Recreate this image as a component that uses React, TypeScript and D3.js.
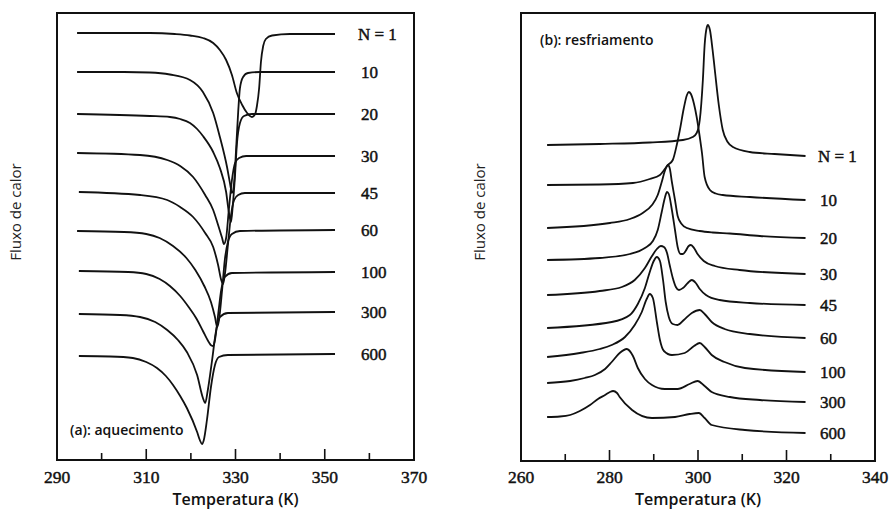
import * as d3 from "d3";

// labels for each curve (number of thermal cycles)
const cycleLabels = ["N = 1", "10", "20", "30", "45", "60", "100", "300", "600"];

// heating (a): [temperature K, heat flow a.u.]
const heatN1 = [[294.5,427],[310.8,427],[316.4,426],[319.8,424.5],[322.7,422],[325.0,417],[326.5,410],[327.9,400],[329.2,385],[330.3,367],[331.5,355],[332.6,347],[333.7,343],[334.4,346],[334.8,354],[335.3,372],[335.7,398],[336.2,414],[336.8,421],[338.2,424.5],[342.2,426],[352.3,426]];
const heatN10 = [[294.5,388],[305.0,388],[310.8,387.5],[315.3,385.5],[319.8,380],[322.7,368],[325.0,347],[326.5,323],[328.1,293],[328.8,276],[329.2,267],[329.7,278],[330.1,308],[330.6,348],[331.0,372],[331.7,383],[332.8,387],[335.5,388],[352.3,388]];
const heatN20 = [[294.5,346],[310.8,344],[315.3,343],[317.6,341],[319.8,337],[321.4,331],[322.7,324],[325.0,308],[326.5,292],[327.9,268],[328.5,248],[329.0,238],[329.4,255],[329.9,285],[330.3,315],[331.0,337],[331.9,344],[333.7,346],[352.3,346]];
const heatN30 = [[294.5,307],[308.6,305],[314.7,300],[317.6,294],[320.5,283],[323.2,265],[325.0,250],[326.1,235],[327.0,222],[327.4,216],[327.9,222],[328.5,250],[329.2,280],[329.9,297],[330.8,302],[332.4,304],[352.3,304]];
const heatN45 = [[294.9,268],[308.6,265],[314.7,260],[317.6,253],[320.5,243],[323.2,227],[325.0,213],[326.1,195],[326.8,180],[327.2,176],[327.6,185],[328.3,215],[329.0,245],[329.7,260],[330.6,265],[332.1,267],[352.3,267]];
const heatN60 = [[294.5,229],[305.0,228],[310.0,226],[313.0,222],[316.0,214],[319.0,202],[321.0,190],[323.0,174],[324.5,158],[325.4,143],[325.9,133],[326.3,140],[327.0,170],[327.6,200],[328.3,218],[329.2,226],[331.0,229],[352.3,230]];
const heatN100 = [[294.9,189],[306.0,188],[310.0,186],[313.0,181],[315.3,174],[317.6,164],[319.5,153],[321.3,141],[322.7,129],[324.0,118],[324.6,114.5],[325.0,114],[325.4,120],[326.1,145],[326.8,170],[327.6,183],[329.2,187],[352.3,188]];
const heatN300 = [[294.9,146],[304.1,145],[308.6,143],[312.0,138],[314.7,130],[317.1,120],[319.1,108],[321.4,85],[322.7,62],[323.2,57],[323.8,70],[324.7,98],[325.6,128],[326.5,143],[328.3,147],[352.3,148]];
const heatN600 = [[294.9,104],[301.9,103.5],[307.0,102],[310.0,98],[312.4,92],[314.4,84],[316.0,75],[317.6,64],[319.1,52],[321.4,28],[322.0,20],[322.5,16],[322.9,20],[323.6,40],[324.5,73],[325.4,95],[326.3,103],[328.3,105],[352.3,106]];

// cooling (b): [temperature K, heat flow a.u.]
const coolN1 = [[265.9,316],[277.8,317],[289.1,318.5],[296.6,321],[298.8,324],[299.7,328],[300.4,341],[301.1,381],[301.5,416],[302.0,434],[302.2,436],[302.7,431],[303.3,411],[303.8,391],[304.7,356],[305.6,331],[306.7,319],[307.9,314],[311.7,309],[317.3,307],[324.3,305]];
const coolN10 = [[265.9,276],[277.8,276.5],[285.3,278],[289.1,282],[291.4,286],[293.2,296],[294.3,301],[295.2,316],[295.9,331],[296.8,353],[297.5,366],[297.9,369],[298.4,367],[299.1,357],[299.7,344],[300.4,324],[300.9,308],[301.5,284],[302.7,271],[304.0,267.5],[305.6,266],[311.7,264],[324.3,261]];
const coolN20 = [[265.9,233],[280.1,238],[284.6,242],[287.5,248],[289.6,256],[290.9,266],[291.8,279],[292.5,290],[293.2,296],[293.6,293],[294.1,279],[294.8,261],[295.4,245],[296.3,237],[297.5,233],[300.4,230],[303.3,228.5],[307.2,227.5],[314.0,225],[324.3,223]];
const coolN30 = [[265.9,201],[277.8,203],[284.6,207],[288.0,213],[289.8,220],[290.9,231],[291.8,249],[292.5,263],[293.0,269],[293.4,267],[294.1,251],[294.8,231],[295.4,214],[296.1,207],[296.6,207],[297.2,210],[297.9,215],[298.4,216],[299.1,213],[299.9,207],[301.3,200],[303.8,195],[309.4,191],[324.3,187]];
const coolN45 = [[265.9,166],[277.8,170],[282.8,174],[285.7,181],[288.0,193],[289.6,205],[290.7,212],[291.6,215],[292.3,214],[293.0,208],[293.6,196],[294.3,183],[295.0,174],[295.7,171],[296.6,173],[297.7,178],[298.6,181],[299.5,178],[300.4,172],[301.8,166],[304.9,161],[311.7,158],[324.3,156]];
const coolN60 = [[265.9,133],[280.5,139],[284.6,146],[286.4,157],[288.0,173],[289.1,189],[290.0,200],[290.7,204],[291.4,200],[292.1,181],[292.7,159],[293.4,144],[294.3,137],[295.4,136],[296.8,141],[298.6,148],[300.4,151],[301.5,147],[303.1,139],[306.0,132],[311.7,127],[324.3,123]];
const coolN100 = [[265.9,104],[273.3,108],[277.8,112],[280.5,116],[283.5,124],[285.7,136],[287.3,149],[288.4,162],[289.1,167],[289.8,163],[290.7,139],[291.4,121],[292.3,110],[294.1,106],[297.0,108],[299.1,115],[300.4,118],[301.5,114],[303.1,106],[306.0,99],[310.6,93],[324.3,89]];
const coolN300 = [[265.9,78],[271.1,80],[274.4,83],[276.7,86],[279.0,92],[280.5,99],[282.3,108],[283.9,112],[285.3,105],[286.4,93],[288.0,82],[289.6,76],[292.5,72],[295.4,72],[298.1,77],[299.9,80],[301.5,75],[303.1,69],[307.2,64],[314.0,61],[324.3,59]];
const coolN600 = [[265.9,44],[268.8,44.5],[271.1,46],[273.3,50],[275.6,56],[277.4,62],[279.0,66],[280.1,69],[280.8,70],[281.7,68],[282.3,64],[285.1,51],[289.6,43],[294.8,44],[298.1,47],[300.2,48],[301.5,43],[303.1,36],[310.6,31],[324.3,28]];

const heatingCurves = [heatN1, heatN10, heatN20, heatN30, heatN45, heatN60, heatN100, heatN300, heatN600];
const coolingCurves = [coolN1, coolN10, coolN20, coolN30, coolN45, coolN60, coolN100, coolN300, coolN600];

const heatTickLabels = [290, 310, 330, 350, 370];
const heatMinorTicks = [300, 320, 340, 360];
const coolTickLabels = [260, 280, 300, 320, 340];
const coolMinorTicks = [270, 290, 310, 330];

const SERIF = "'Liberation Serif', 'DejaVu Serif', serif";
const SANS = "'Open Sans', 'Noto Sans', sans-serif";
const INK = "#111";

function Panel(props) {
  const { box, xDomain, yMax, curves, majors, minors, title, titlePos, labelX, labelFirstX } = props;
  const x = d3.scaleLinear().domain(xDomain).range([box.left, box.right]);
  const y = d3.scaleLinear().domain([0, yMax]).range([box.bottom, box.top]);
  const line = d3
    .line()
    .x((d) => x(d[0]))
    .y((d) => y(d[1]))
    .curve(d3.curveMonotoneX);

  const midX = (box.left + box.right) / 2;

  return (
    <g>
      <rect
        x={box.left}
        y={box.top}
        width={box.right - box.left}
        height={box.bottom - box.top}
        fill="none"
        stroke={INK}
        strokeWidth={2}
      />
      {majors.slice(1, -1).map((t) => (
        <line key={"M" + t} x1={x(t)} x2={x(t)} y1={box.bottom} y2={box.bottom - 11} stroke={INK} strokeWidth={1.6} />
      ))}
      {minors.map((t) => (
        <line key={"m" + t} x1={x(t)} x2={x(t)} y1={box.bottom} y2={box.bottom - 7} stroke={INK} strokeWidth={1.6} />
      ))}
      {majors.map((t) => (
        <text key={"t" + t} x={x(t)} y={483} textAnchor="middle" fontFamily={SERIF} fontSize={17.5}
          fill={INK} stroke={INK} strokeWidth={0.45}>
          {t}
        </text>
      ))}
      <text x={midX} y={505} textAnchor="middle" fontFamily={SANS} fontWeight={600} fontSize={16} fill={INK}>
        Temperatura (K)
      </text>
      <text
        transform={`translate(${box.left - 36},212) rotate(-90)`}
        textAnchor="middle"
        fontFamily={SANS}
        fontSize={15}
        fill="#222"
      >
        Fluxo de calor
      </text>
      {curves.map((c, i) => (
        <path key={i} d={line(c)} fill="none" stroke={INK} strokeWidth={1.8} strokeLinejoin="round" />
      ))}
      {curves.map((c, i) => {
        const last = c[c.length - 1];
        return (
          <text
            key={"l" + i}
            x={i === 0 ? labelFirstX : labelX}
            y={y(last[1]) + 6}
            fontFamily={SERIF}
            fontSize={17}
            fill={INK}
            stroke={INK}
            strokeWidth={0.45}
          >
            {cycleLabels[i]}
          </text>
        );
      })}
      <text x={titlePos[0]} y={titlePos[1]} fontFamily={SANS} fontWeight={600} fontSize={14} fill={INK}>
        {title}
      </text>
    </g>
  );
}

export default function App() {
  return (
    <svg width={890} height={511} style={{ position: "absolute", left: 0, top: 0, background: "#fff" }}>
      <rect width={890} height={511} fill="#fff" />
      <Panel
        box={{ left: 57, right: 414, top: 13, bottom: 460 }}
        xDomain={[290, 370]}
        yMax={447}
        curves={heatingCurves}
        majors={heatTickLabels}
        minors={heatMinorTicks}
        title="(a): aquecimento"
        titlePos={[70, 435]}
        labelX={361}
        labelFirstX={358}
      />
      <Panel
        box={{ left: 521, right: 875, top: 13, bottom: 461 }}
        xDomain={[260, 340]}
        yMax={448}
        curves={coolingCurves}
        majors={coolTickLabels}
        minors={coolMinorTicks}
        title="(b): resfriamento"
        titlePos={[540, 45]}
        labelX={820}
        labelFirstX={818}
      />
    </svg>
  );
}
